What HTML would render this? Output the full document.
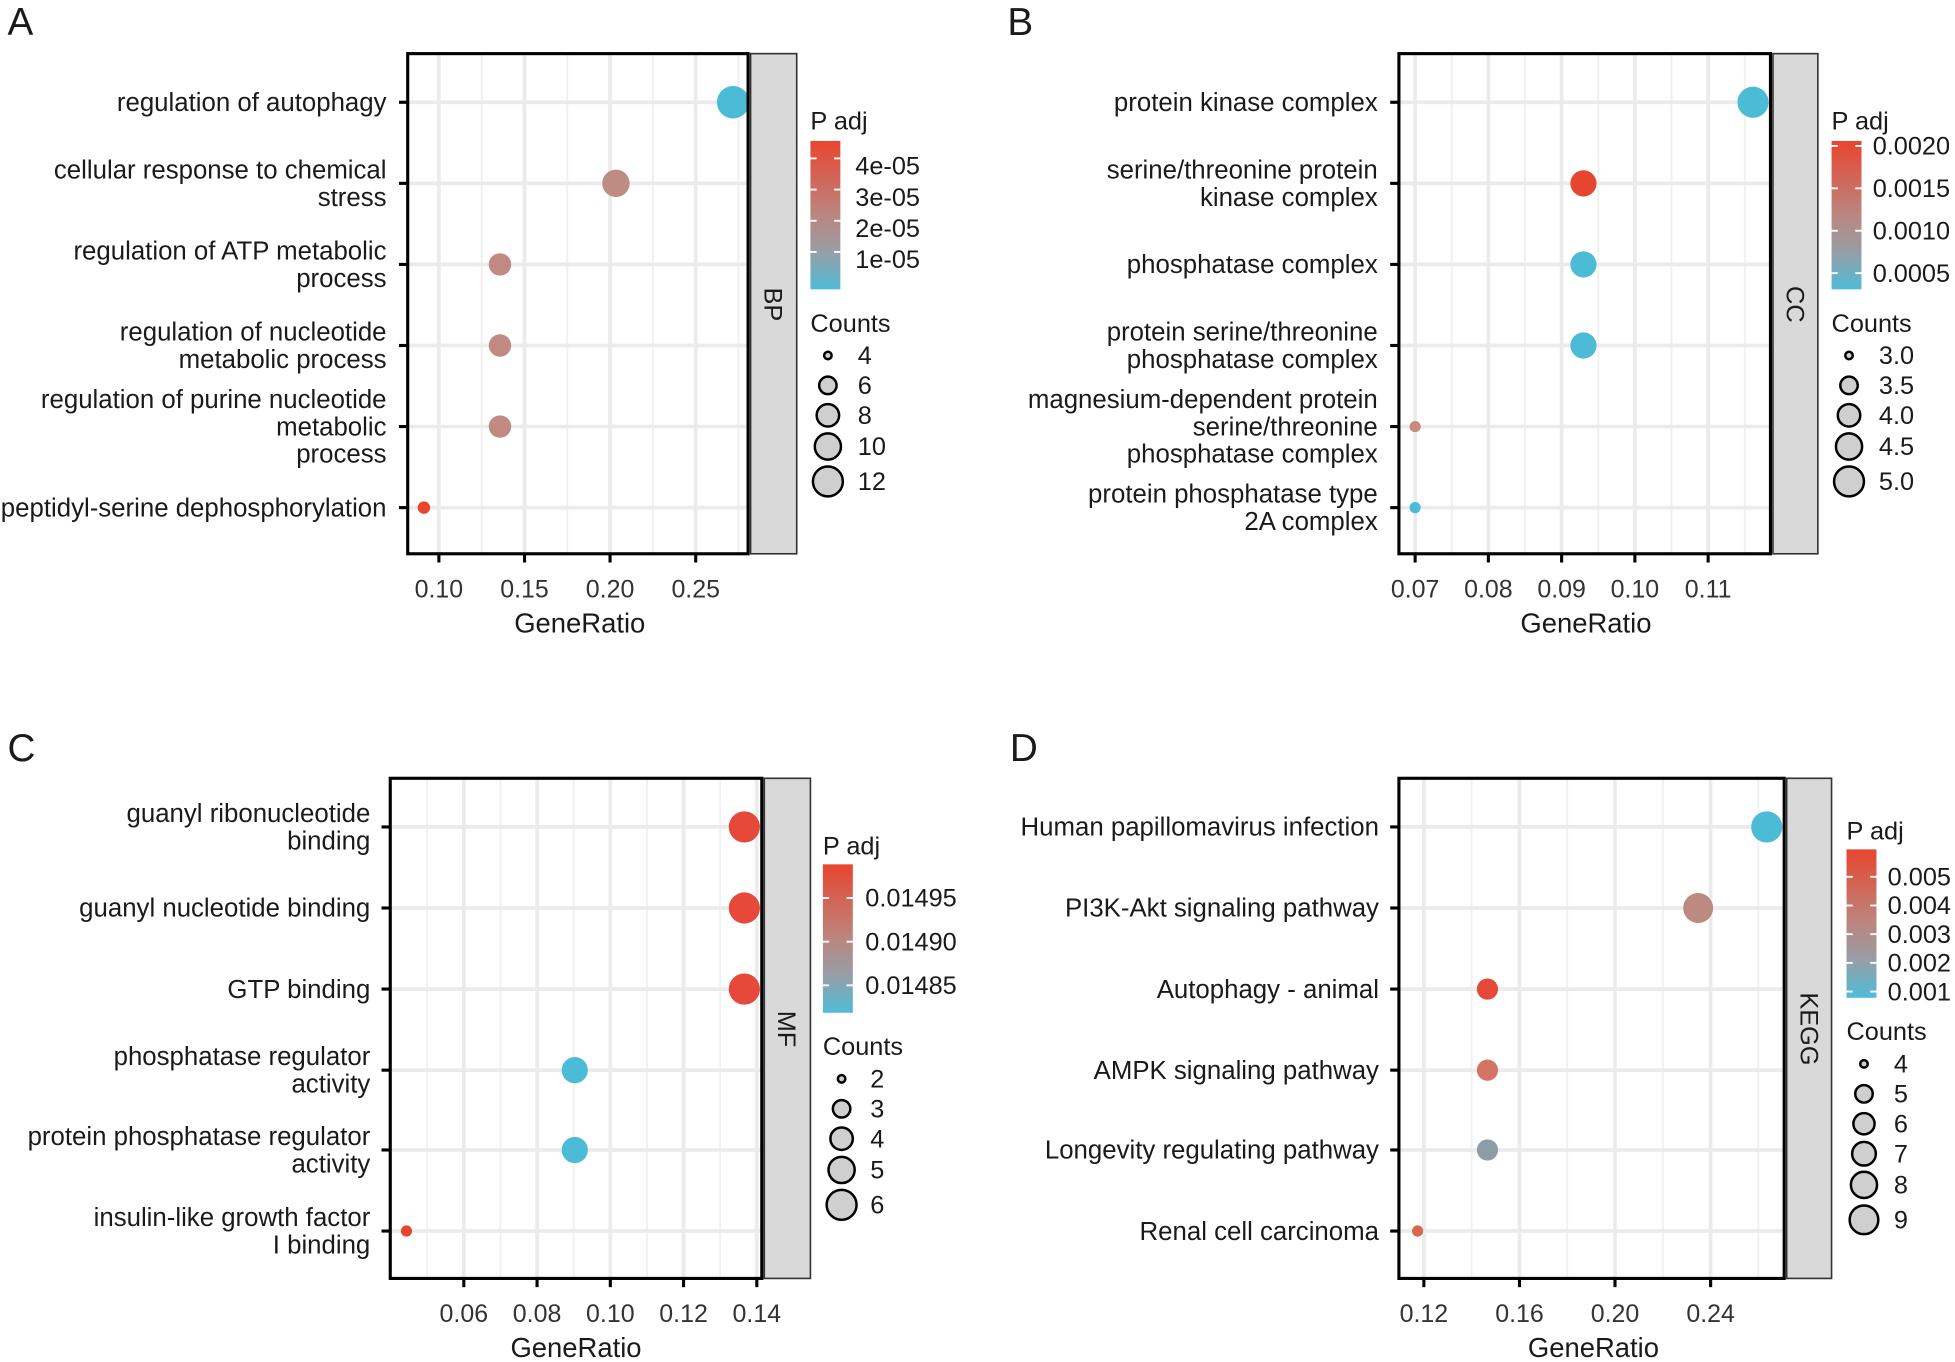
<!DOCTYPE html>
<html><head><meta charset="utf-8"><style>
html,body{margin:0;padding:0;background:#fff;}
svg{display:block;}
text{font-family:"Liberation Sans",Arial,sans-serif;fill:#1a1a1a;}
.lab{font-size:20.7px;text-anchor:end;}
.tk{font-size:20px;text-anchor:middle;fill:#333;}
.lg{font-size:20.3px;}
.ttl{font-size:22px;text-anchor:middle;}
.let{font-size:31px;}
.gM{stroke:#ebebeb;stroke-width:3;}
.gm{stroke:#f0f0f0;stroke-width:1.5;}
.box{fill:none;stroke:#000;stroke-width:2.5;}
.strip{fill:#d9d9d9;stroke:#333;stroke-width:1.3;}
.lc{fill:#cfcfcf;stroke:#000;stroke-width:2;}
</style></head><body>
<svg width="1955" height="1362" viewBox="0 0 1568 1092" preserveAspectRatio="none" xmlns="http://www.w3.org/2000/svg">
<defs>
<linearGradient id="gr" x1="0" y1="0" x2="0" y2="1">
<stop offset="0" stop-color="#e8452f"/>
<stop offset="0.5" stop-color="#bb8680"/>
<stop offset="0.75" stop-color="#969ea6"/>
<stop offset="1" stop-color="#4fbcd8"/>
</linearGradient>
<clipPath id="cA"><rect x="327" y="43" width="273" height="401"/></clipPath>
<clipPath id="cB"><rect x="1122" y="43" width="298" height="401"/></clipPath>
<clipPath id="cC"><rect x="313" y="624" width="298" height="401"/></clipPath>
<clipPath id="cD"><rect x="1122" y="624" width="309" height="401"/></clipPath>
</defs>
<rect width="1568" height="1092" fill="#fff"/>

<!-- ============ A ============ -->
<text class="let" x="6" y="28">A</text>
<g clip-path="url(#cA)">
<g class="gm"><line x1="386.3" y1="43" x2="386.3" y2="444"/><line x1="455" y1="43" x2="455" y2="444"/><line x1="523.7" y1="43" x2="523.7" y2="444"/><line x1="592.3" y1="43" x2="592.3" y2="444"/></g>
<g class="gM"><line x1="352" y1="43" x2="352" y2="444"/><line x1="420.7" y1="43" x2="420.7" y2="444"/><line x1="489.3" y1="43" x2="489.3" y2="444"/><line x1="558" y1="43" x2="558" y2="444"/>
<line x1="327" y1="82" x2="600" y2="82"/><line x1="327" y1="147" x2="600" y2="147"/><line x1="327" y1="212" x2="600" y2="212"/><line x1="327" y1="277" x2="600" y2="277"/><line x1="327" y1="342" x2="600" y2="342"/><line x1="327" y1="407" x2="600" y2="407"/></g>
<circle cx="588" cy="82" r="13" fill="#4bbbd6"/>
<circle cx="494" cy="147" r="11" fill="#bf8c84"/>
<circle cx="401" cy="212" r="9" fill="#c08a82"/>
<circle cx="401" cy="277" r="9" fill="#c08a82"/>
<circle cx="401" cy="342" r="9" fill="#c08a82"/>
<circle cx="340" cy="407" r="5" fill="#e8452f"/>
</g>
<rect class="box" x="327" y="43" width="273" height="401"/>
<rect class="strip" x="602" y="43" width="37" height="401"/>
<text class="lg" transform="translate(613,244) rotate(90)" text-anchor="middle">BP</text>
<g stroke="#000" stroke-width="2.5"><line x1="320" y1="82" x2="327" y2="82"/><line x1="320" y1="147" x2="327" y2="147"/><line x1="320" y1="212" x2="327" y2="212"/><line x1="320" y1="277" x2="327" y2="277"/><line x1="320" y1="342" x2="327" y2="342"/><line x1="320" y1="407" x2="327" y2="407"/>
<line x1="352" y1="444" x2="352" y2="451"/><line x1="420.7" y1="444" x2="420.7" y2="451"/><line x1="489.3" y1="444" x2="489.3" y2="451"/><line x1="558" y1="444" x2="558" y2="451"/></g>
<text class="lab" x="310" y="89">regulation of autophagy</text>
<text class="lab" x="310" y="143">cellular response to chemical</text><text class="lab" x="310" y="165">stress</text>
<text class="lab" x="310" y="208">regulation of ATP metabolic</text><text class="lab" x="310" y="230">process</text>
<text class="lab" x="310" y="273">regulation of nucleotide</text><text class="lab" x="310" y="295">metabolic process</text>
<text class="lab" x="310" y="327">regulation of purine nucleotide</text><text class="lab" x="310" y="349">metabolic</text><text class="lab" x="310" y="371">process</text>
<text class="lab" x="310" y="414">peptidyl-serine dephosphorylation</text>
<text class="tk" x="352" y="479">0.10</text><text class="tk" x="420.7" y="479">0.15</text><text class="tk" x="489.3" y="479">0.20</text><text class="tk" x="558" y="479">0.25</text>
<text class="ttl" x="465" y="507">GeneRatio</text>
<text class="lg" x="650" y="104">P adj</text>
<rect x="650" y="113" width="24" height="119" fill="url(#gr)"/>
<g stroke="#fff" stroke-width="1.5"><line x1="650" y1="127" x2="655" y2="127"/><line x1="669" y1="127" x2="674" y2="127"/><line x1="650" y1="152" x2="655" y2="152"/><line x1="669" y1="152" x2="674" y2="152"/><line x1="650" y1="177" x2="655" y2="177"/><line x1="669" y1="177" x2="674" y2="177"/><line x1="650" y1="202" x2="655" y2="202"/><line x1="669" y1="202" x2="674" y2="202"/></g>
<text class="lg" x="686" y="140">4e-05</text><text class="lg" x="686" y="165">3e-05</text><text class="lg" x="686" y="190">2e-05</text><text class="lg" x="686" y="215">1e-05</text>
<text class="lg" x="650" y="266">Counts</text>
<circle class="lc" cx="664" cy="285" r="3"/><circle class="lc" cx="664" cy="309" r="7"/><circle class="lc" cx="664" cy="333" r="9"/><circle class="lc" cx="664" cy="358" r="10.5"/><circle class="lc" cx="664" cy="386" r="12"/>
<text class="lg" x="688" y="292">4</text><text class="lg" x="688" y="316">6</text><text class="lg" x="688" y="340">8</text><text class="lg" x="688" y="365">10</text><text class="lg" x="688" y="393">12</text>

<!-- ============ B ============ -->
<text class="let" x="808" y="28">B</text>
<g clip-path="url(#cB)">
<g class="gm"><line x1="1164.4" y1="43" x2="1164.4" y2="444"/><line x1="1223.1" y1="43" x2="1223.1" y2="444"/><line x1="1281.9" y1="43" x2="1281.9" y2="444"/><line x1="1340.6" y1="43" x2="1340.6" y2="444"/><line x1="1399.4" y1="43" x2="1399.4" y2="444"/></g>
<g class="gM"><line x1="1135" y1="43" x2="1135" y2="444"/><line x1="1193.75" y1="43" x2="1193.75" y2="444"/><line x1="1252.5" y1="43" x2="1252.5" y2="444"/><line x1="1311.25" y1="43" x2="1311.25" y2="444"/><line x1="1370" y1="43" x2="1370" y2="444"/>
<line x1="1122" y1="82" x2="1420" y2="82"/><line x1="1122" y1="147" x2="1420" y2="147"/><line x1="1122" y1="212" x2="1420" y2="212"/><line x1="1122" y1="277" x2="1420" y2="277"/><line x1="1122" y1="342" x2="1420" y2="342"/><line x1="1122" y1="407" x2="1420" y2="407"/></g>
<circle cx="1406" cy="82" r="12.5" fill="#4bbbd6"/>
<circle cx="1270" cy="147" r="10.5" fill="#e8452f"/>
<circle cx="1270" cy="212" r="10.5" fill="#4bbbd6"/>
<circle cx="1270" cy="277" r="10.5" fill="#4bbbd6"/>
<circle cx="1135" cy="342" r="4.5" fill="#c98a80"/>
<circle cx="1135" cy="407" r="4.5" fill="#4bbbd6"/>
</g>
<rect class="box" x="1122" y="43" width="298" height="401"/>
<rect class="strip" x="1422" y="43" width="36" height="401"/>
<text class="lg" transform="translate(1433,244) rotate(90)" text-anchor="middle">CC</text>
<g stroke="#000" stroke-width="2.5"><line x1="1115" y1="82" x2="1122" y2="82"/><line x1="1115" y1="147" x2="1122" y2="147"/><line x1="1115" y1="212" x2="1122" y2="212"/><line x1="1115" y1="277" x2="1122" y2="277"/><line x1="1115" y1="342" x2="1122" y2="342"/><line x1="1115" y1="407" x2="1122" y2="407"/>
<line x1="1135" y1="444" x2="1135" y2="451"/><line x1="1193.75" y1="444" x2="1193.75" y2="451"/><line x1="1252.5" y1="444" x2="1252.5" y2="451"/><line x1="1311.25" y1="444" x2="1311.25" y2="451"/><line x1="1370" y1="444" x2="1370" y2="451"/></g>
<text class="lab" x="1105" y="89">protein kinase complex</text>
<text class="lab" x="1105" y="143">serine/threonine protein</text><text class="lab" x="1105" y="165">kinase complex</text>
<text class="lab" x="1105" y="219">phosphatase complex</text>
<text class="lab" x="1105" y="273">protein serine/threonine</text><text class="lab" x="1105" y="295">phosphatase complex</text>
<text class="lab" x="1105" y="327">magnesium-dependent protein</text><text class="lab" x="1105" y="349">serine/threonine</text><text class="lab" x="1105" y="371">phosphatase complex</text>
<text class="lab" x="1105" y="403">protein phosphatase type</text><text class="lab" x="1105" y="425">2A complex</text>
<text class="tk" x="1135" y="479">0.07</text><text class="tk" x="1193.75" y="479">0.08</text><text class="tk" x="1252.5" y="479">0.09</text><text class="tk" x="1311.25" y="479">0.10</text><text class="tk" x="1370" y="479">0.11</text>
<text class="ttl" x="1272" y="507">GeneRatio</text>
<text class="lg" x="1469" y="104">P adj</text>
<rect x="1469" y="113" width="24" height="119" fill="url(#gr)"/>
<g stroke="#fff" stroke-width="1.5"><line x1="1469" y1="117" x2="1474" y2="117"/><line x1="1488" y1="117" x2="1493" y2="117"/><line x1="1469" y1="151" x2="1474" y2="151"/><line x1="1488" y1="151" x2="1493" y2="151"/><line x1="1469" y1="185" x2="1474" y2="185"/><line x1="1488" y1="185" x2="1493" y2="185"/><line x1="1469" y1="219" x2="1474" y2="219"/><line x1="1488" y1="219" x2="1493" y2="219"/></g>
<text class="lg" x="1502" y="124">0.0020</text><text class="lg" x="1502" y="158">0.0015</text><text class="lg" x="1502" y="192">0.0010</text><text class="lg" x="1502" y="226">0.0005</text>
<text class="lg" x="1469" y="266">Counts</text>
<circle class="lc" cx="1483" cy="285" r="3"/><circle class="lc" cx="1483" cy="309" r="7"/><circle class="lc" cx="1483" cy="333" r="9"/><circle class="lc" cx="1483" cy="358" r="10.5"/><circle class="lc" cx="1483" cy="386" r="12"/>
<text class="lg" x="1507" y="292">3.0</text><text class="lg" x="1507" y="316">3.5</text><text class="lg" x="1507" y="340">4.0</text><text class="lg" x="1507" y="365">4.5</text><text class="lg" x="1507" y="393">5.0</text>

<!-- ============ C ============ -->
<text class="let" x="6" y="610">C</text>
<g clip-path="url(#cC)">
<g class="gm"><line x1="342.6" y1="624" x2="342.6" y2="1025"/><line x1="401.4" y1="624" x2="401.4" y2="1025"/><line x1="460.1" y1="624" x2="460.1" y2="1025"/><line x1="518.9" y1="624" x2="518.9" y2="1025"/><line x1="577.6" y1="624" x2="577.6" y2="1025"/></g>
<g class="gM"><line x1="372" y1="624" x2="372" y2="1025"/><line x1="430.75" y1="624" x2="430.75" y2="1025"/><line x1="489.5" y1="624" x2="489.5" y2="1025"/><line x1="548.25" y1="624" x2="548.25" y2="1025"/><line x1="607" y1="624" x2="607" y2="1025"/>
<line x1="313" y1="663" x2="611" y2="663"/><line x1="313" y1="728" x2="611" y2="728"/><line x1="313" y1="793" x2="611" y2="793"/><line x1="313" y1="858" x2="611" y2="858"/><line x1="313" y1="922" x2="611" y2="922"/><line x1="313" y1="987" x2="611" y2="987"/></g>
<circle cx="597" cy="663" r="12.5" fill="#e6483a"/>
<circle cx="597" cy="728" r="12.5" fill="#e6483a"/>
<circle cx="597" cy="793" r="12.5" fill="#e6483a"/>
<circle cx="461" cy="858" r="10.5" fill="#4bbbd6"/>
<circle cx="461" cy="922" r="10.5" fill="#4bbbd6"/>
<circle cx="326" cy="987" r="4.5" fill="#e8452f"/>
</g>
<rect class="box" x="313" y="624" width="298" height="401"/>
<rect class="strip" x="613" y="624" width="37" height="401"/>
<text class="lg" transform="translate(624,825) rotate(90)" text-anchor="middle">MF</text>
<g stroke="#000" stroke-width="2.5"><line x1="306" y1="663" x2="313" y2="663"/><line x1="306" y1="728" x2="313" y2="728"/><line x1="306" y1="793" x2="313" y2="793"/><line x1="306" y1="858" x2="313" y2="858"/><line x1="306" y1="922" x2="313" y2="922"/><line x1="306" y1="987" x2="313" y2="987"/>
<line x1="372" y1="1025" x2="372" y2="1032"/><line x1="430.75" y1="1025" x2="430.75" y2="1032"/><line x1="489.5" y1="1025" x2="489.5" y2="1032"/><line x1="548.25" y1="1025" x2="548.25" y2="1032"/><line x1="607" y1="1025" x2="607" y2="1032"/></g>
<text class="lab" x="297" y="659">guanyl ribonucleotide</text><text class="lab" x="297" y="681">binding</text>
<text class="lab" x="297" y="735">guanyl nucleotide binding</text>
<text class="lab" x="297" y="800">GTP binding</text>
<text class="lab" x="297" y="854">phosphatase regulator</text><text class="lab" x="297" y="876">activity</text>
<text class="lab" x="297" y="918">protein phosphatase regulator</text><text class="lab" x="297" y="940">activity</text>
<text class="lab" x="297" y="983">insulin-like growth factor</text><text class="lab" x="297" y="1005">I binding</text>
<text class="tk" x="372" y="1060">0.06</text><text class="tk" x="430.75" y="1060">0.08</text><text class="tk" x="489.5" y="1060">0.10</text><text class="tk" x="548.25" y="1060">0.12</text><text class="tk" x="607" y="1060">0.14</text>
<text class="ttl" x="462" y="1088">GeneRatio</text>
<text class="lg" x="660" y="685">P adj</text>
<rect x="660" y="693" width="24" height="119" fill="url(#gr)"/>
<g stroke="#fff" stroke-width="1.5"><line x1="660" y1="720" x2="665" y2="720"/><line x1="679" y1="720" x2="684" y2="720"/><line x1="660" y1="755" x2="665" y2="755"/><line x1="679" y1="755" x2="684" y2="755"/><line x1="660" y1="790" x2="665" y2="790"/><line x1="679" y1="790" x2="684" y2="790"/></g>
<text class="lg" x="694" y="727">0.01495</text><text class="lg" x="694" y="762">0.01490</text><text class="lg" x="694" y="797">0.01485</text>
<text class="lg" x="660" y="846">Counts</text>
<circle class="lc" cx="675" cy="865" r="3"/><circle class="lc" cx="675" cy="889" r="7"/><circle class="lc" cx="675" cy="913" r="9"/><circle class="lc" cx="675" cy="938" r="10.5"/><circle class="lc" cx="675" cy="966" r="12"/>
<text class="lg" x="698" y="872">2</text><text class="lg" x="698" y="896">3</text><text class="lg" x="698" y="920">4</text><text class="lg" x="698" y="945">5</text><text class="lg" x="698" y="973">6</text>

<!-- ============ D ============ -->
<text class="let" x="810" y="610">D</text>
<g clip-path="url(#cD)">
<g class="gm"><line x1="1180.3" y1="624" x2="1180.3" y2="1025"/><line x1="1257" y1="624" x2="1257" y2="1025"/><line x1="1333.7" y1="624" x2="1333.7" y2="1025"/><line x1="1410.3" y1="624" x2="1410.3" y2="1025"/></g>
<g class="gM"><line x1="1142" y1="624" x2="1142" y2="1025"/><line x1="1218.7" y1="624" x2="1218.7" y2="1025"/><line x1="1295.3" y1="624" x2="1295.3" y2="1025"/><line x1="1372" y1="624" x2="1372" y2="1025"/>
<line x1="1122" y1="663" x2="1431" y2="663"/><line x1="1122" y1="728" x2="1431" y2="728"/><line x1="1122" y1="793" x2="1431" y2="793"/><line x1="1122" y1="858" x2="1431" y2="858"/><line x1="1122" y1="922" x2="1431" y2="922"/><line x1="1122" y1="987" x2="1431" y2="987"/></g>
<circle cx="1417" cy="663" r="12.5" fill="#4bbbd6"/>
<circle cx="1362" cy="728" r="12" fill="#bd8a82"/>
<circle cx="1193" cy="793" r="8.5" fill="#e6483a"/>
<circle cx="1193" cy="858" r="8.5" fill="#d47564"/>
<circle cx="1193" cy="922" r="8.5" fill="#8d9da8"/>
<circle cx="1137" cy="987" r="4.5" fill="#dc6550"/>
</g>
<rect class="box" x="1122" y="624" width="309" height="401"/>
<rect class="strip" x="1433" y="624" width="36" height="401"/>
<text class="lg" transform="translate(1444,825) rotate(90)" text-anchor="middle">KEGG</text>
<g stroke="#000" stroke-width="2.5"><line x1="1115" y1="663" x2="1122" y2="663"/><line x1="1115" y1="728" x2="1122" y2="728"/><line x1="1115" y1="793" x2="1122" y2="793"/><line x1="1115" y1="858" x2="1122" y2="858"/><line x1="1115" y1="922" x2="1122" y2="922"/><line x1="1115" y1="987" x2="1122" y2="987"/>
<line x1="1142" y1="1025" x2="1142" y2="1032"/><line x1="1218.7" y1="1025" x2="1218.7" y2="1032"/><line x1="1295.3" y1="1025" x2="1295.3" y2="1032"/><line x1="1372" y1="1025" x2="1372" y2="1032"/></g>
<text class="lab" x="1106" y="670">Human papillomavirus infection</text>
<text class="lab" x="1106" y="735">PI3K-Akt signaling pathway</text>
<text class="lab" x="1106" y="800">Autophagy - animal</text>
<text class="lab" x="1106" y="865">AMPK signaling pathway</text>
<text class="lab" x="1106" y="929">Longevity regulating pathway</text>
<text class="lab" x="1106" y="994">Renal cell carcinoma</text>
<text class="tk" x="1142" y="1060">0.12</text><text class="tk" x="1218.7" y="1060">0.16</text><text class="tk" x="1295.3" y="1060">0.20</text><text class="tk" x="1372" y="1060">0.24</text>
<text class="ttl" x="1278" y="1088">GeneRatio</text>
<text class="lg" x="1481" y="673">P adj</text>
<rect x="1481" y="681" width="24" height="119" fill="url(#gr)"/>
<g stroke="#fff" stroke-width="1.5"><line x1="1481" y1="703" x2="1486" y2="703"/><line x1="1500" y1="703" x2="1505" y2="703"/><line x1="1481" y1="726" x2="1486" y2="726"/><line x1="1500" y1="726" x2="1505" y2="726"/><line x1="1481" y1="749" x2="1486" y2="749"/><line x1="1500" y1="749" x2="1505" y2="749"/><line x1="1481" y1="772" x2="1486" y2="772"/><line x1="1500" y1="772" x2="1505" y2="772"/><line x1="1481" y1="795" x2="1486" y2="795"/><line x1="1500" y1="795" x2="1505" y2="795"/></g>
<text class="lg" x="1514" y="710">0.005</text><text class="lg" x="1514" y="733">0.004</text><text class="lg" x="1514" y="756">0.003</text><text class="lg" x="1514" y="779">0.002</text><text class="lg" x="1514" y="802">0.001</text>
<text class="lg" x="1481" y="834">Counts</text>
<circle class="lc" cx="1495" cy="853" r="3"/><circle class="lc" cx="1495" cy="877" r="7"/><circle class="lc" cx="1495" cy="901" r="8.5"/><circle class="lc" cx="1495" cy="925" r="9.5"/><circle class="lc" cx="1495" cy="950" r="10.5"/><circle class="lc" cx="1495" cy="978" r="11.5"/>
<text class="lg" x="1519" y="860">4</text><text class="lg" x="1519" y="884">5</text><text class="lg" x="1519" y="908">6</text><text class="lg" x="1519" y="932">7</text><text class="lg" x="1519" y="957">8</text><text class="lg" x="1519" y="985">9</text>
</svg>
</body></html>
